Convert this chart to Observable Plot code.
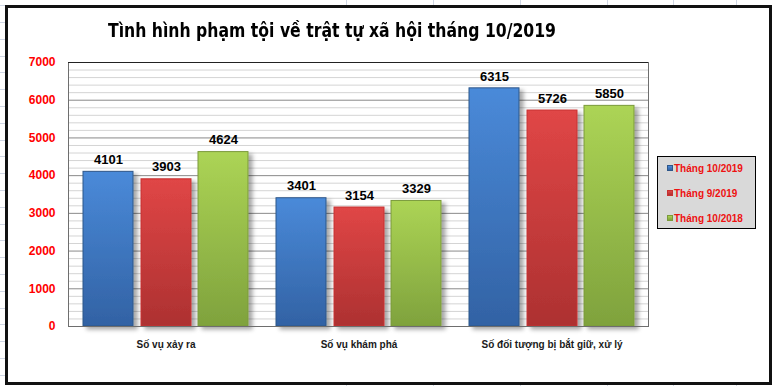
<!DOCTYPE html>
<html><head><meta charset="utf-8">
<script src="https://cdn.jsdelivr.net/npm/d3@7"></script>
<script src="https://cdn.jsdelivr.net/npm/@observablehq/plot@0.6"></script>
<style>
html,body{margin:0;padding:0;}
body{width:772px;height:386px;position:relative;overflow:hidden;background:#fff;font-family:"Liberation Sans",Arial,sans-serif;}
#leftstrip{position:absolute;left:0;top:0;width:5px;height:386px;background-image:repeating-linear-gradient(to bottom,transparent 0,transparent 5.3px,#cfd6e4 5.3px,#cfd6e4 6.3px,transparent 6.3px,transparent 16.8px);}
.vline{position:absolute;top:0;width:1px;height:386px;background:#cfd6e4;}
#frame{position:absolute;left:5px;top:5px;width:767px;height:380px;box-sizing:border-box;border:3px solid #111;background:#fff;}
#chart{position:absolute;left:0;top:0;}
#title{position:absolute;left:108px;top:18px;font-weight:bold;font-size:20px;font-family:"Liberation Sans Narrow","Arial Narrow","DejaVu Sans Condensed",sans-serif;white-space:nowrap;color:#000;transform-origin:0 50%;}
#legend{position:absolute;left:657px;top:156px;width:99px;height:73px;box-sizing:border-box;border:1px solid #000;background:#d9d9d9;}
.item{position:absolute;left:9px;height:12px;line-height:12px;font:bold 10px "Liberation Sans",Arial,sans-serif;color:#ee1111;white-space:nowrap;}
.sw{display:inline-block;width:6px;height:6px;margin-right:1px;vertical-align:1px;box-sizing:border-box;}
</style></head>
<body>
<div id="leftstrip"></div>
<div class="vline" style="left:346px"></div>
<div class="vline" style="left:433px"></div>
<div class="vline" style="left:520px"></div>
<div class="vline" style="left:607px"></div>
<div class="vline" style="left:673px"></div>
<div class="vline" style="left:736px"></div>
<div id="frame"></div>
<div id="chart"></div>
<div id="title"><span id="titletext">Tình hình phạm tội về trật tự xã hội tháng 10/2019</span></div>
<div id="legend"></div>
<script>
// ---- data ----
const categories = ["Số vụ xảy ra", "Số vụ khám phá", "Số đối tượng bị bắt giữ, xử lý"];
const seriesNames = ["Tháng 10/2019", "Tháng 9/2019", "Tháng 10/2018"];
const valuesOct2019 = [4101, 3401, 6315];
const valuesSep2019 = [3903, 3154, 5726];
const valuesOct2018 = [4624, 3329, 5850];
const yTicks = [0, 1000, 2000, 3000, 4000, 5000, 6000, 7000];

// ---- styles ----
const gradTop = ["#4a8ad9", "#e04646", "#acd455"];
const gradBottom = ["#3262a4", "#ad3131", "#7fa23d"];
const strokes = ["#2d5689", "#c83030", "#7a9a3a"];

const seriesValues = [valuesOct2019, valuesSep2019, valuesOct2018];
const rows = [];
seriesNames.forEach((s, i) => categories.forEach((c, j) => rows.push({cat: c, series: s, value: seriesValues[i][j], idx: i})));

const gradIds = seriesNames.map((_, i) => "grad" + i);
const minorTicks = d3.range(0, 7001, 200).filter(v => v % 1000 !== 0);

// bar placement inside each category band (band ≈165px: 3 bars of 50 with gaps)
const insL = [0, 58, 115], insR = [115, 57, 0], labelDx = [-57.5, 0.5, 57.5];

const marks = [
  Plot.frame({fill: "white", stroke: "none"}),
  Plot.ruleY(minorTicks, {stroke: "#d4d4d4", strokeWidth: 1}),
  Plot.ruleY(yTicks, {stroke: "#8a8a8a", strokeWidth: 1}),
];
seriesNames.forEach((s, i) => {
  marks.push(Plot.barY(rows.filter(r => r.idx === i), {
    x: "cat", y: "value", fill: "series", stroke: strokes[i], strokeWidth: 1,
    insetLeft: insL[i], insetRight: insR[i]
  }));
});
marks.push(Plot.frame({stroke: "#6e6e6e"}));
marks.push(Plot.ruleY([7000], {stroke: "#222"}));
seriesNames.forEach((s, i) => {
  marks.push(Plot.text(rows.filter(r => r.idx === i), {
    x: "cat", y: "value", text: d => String(d.value), dx: labelDx[i], dy: -12,
    fontSize: 13, fontWeight: "bold", fill: "#000", fontFamily: "Liberation Sans, Arial, sans-serif"
  }));
});
marks.push(Plot.axisY(yTicks, {tickSize: 0, tickPadding: 13, fill: "#ff0000", fontSize: 12, fontWeight: "bold", label: null, tickFormat: d => String(d), fontFamily: "Liberation Sans, Arial, sans-serif"}));
marks.push(Plot.axisX({tickSize: 0, tickPadding: 14, fill: "#1a1a1a", fontSize: 10, fontWeight: "bold", label: null, fontFamily: "Liberation Sans, Arial, sans-serif"}));

const svg = Plot.plot({
  width: 772, height: 386,
  marginLeft: 68, marginRight: 124, marginTop: 62, marginBottom: 60,
  style: {background: "transparent", overflow: "visible"},
  x: {domain: categories, paddingInner: 0.146, paddingOuter: 0.073, axis: null},
  y: {domain: [0, 7000], axis: null},
  color: {type: "ordinal", domain: seriesNames, range: gradIds.map(id => `url(#${id})`)},
  marks
});

// gradients & shadow
const sel = d3.select(svg);
const defs = sel.insert("defs", ":first-child");
gradIds.forEach((id, i) => {
  const g = defs.append("linearGradient").attr("id", id).attr("x1", 0).attr("y1", 0).attr("x2", 0).attr("y2", 1);
  g.append("stop").attr("offset", "0%").attr("stop-color", gradTop[i]);
  g.append("stop").attr("offset", "100%").attr("stop-color", gradBottom[i]);
});
const f = defs.append("filter").attr("id", "shadow").attr("x", "-30%").attr("y", "-10%").attr("width", "160%").attr("height", "130%");
f.append("feDropShadow").attr("dx", 4).attr("dy", 3).attr("stdDeviation", 2.2).attr("flood-color", "#000").attr("flood-opacity", 0.35);
sel.selectAll('g[aria-label="bar"]').attr("filter", "url(#shadow)");
sel.select('g[aria-label="frame"]').attr("filter", "url(#shadow)");
document.getElementById("chart").appendChild(svg);

// fit title to the reference's narrow (Calibri-like) width
const tt = document.getElementById("titletext");
const tw = tt.getBoundingClientRect().width;
document.getElementById("title").style.transform = `scaleX(${448 / tw})`;

// legend
const lg = d3.select("#legend");
seriesNames.forEach((s, i) => {
  const it = lg.append("div").attr("class", "item").style("top", (6 + i * 25) + "px");
  it.append("span").attr("class", "sw").style("background", `linear-gradient(${gradTop[i]}, ${gradBottom[i]})`).style("border", `1px solid ${strokes[i]}`);
  it.append("span").text(s);
});
</script>
</body></html>
